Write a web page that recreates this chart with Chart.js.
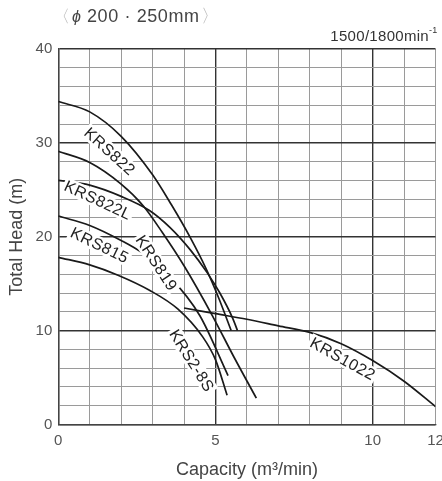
<!DOCTYPE html>
<html>
<head>
<meta charset="utf-8">
<script src="https://cdn.jsdelivr.net/npm/chart.js@4.4.1/dist/chart.umd.min.js"></script>
<style>
  html, body { margin: 0; padding: 0; background: #fff; }
  #wrap { width: 442px; height: 481px; }
</style>
</head>
<body>
<div id="wrap"><canvas id="pumpChart" width="442" height="481"></canvas></div>
<script>
// pump curves: capacity (m3/min) vs total head (m)
const krs822Q = [0, 1, 2, 3, 3.6, 4.2, 4.7, 5.1, 5.5];
const krs822H = [34.4, 33.3, 30.7, 26.6, 23.4, 19.9, 16.6, 13.5, 10.0];

const krs819Q = [0, 1, 2, 2.7, 3.3, 4, 4.9, 5.6, 6.3];
const krs819H = [29.1, 27.9, 25.6, 23.3, 20.5, 16.9, 11.6, 7.1, 2.8];

const krs822lQ = [0, 1, 2, 2.9, 3.55, 4.2, 4.73, 5.14, 5.55, 5.7];
const krs822lH = [26.0, 25.5, 24.3, 22.8, 21.0, 18.6, 16.2, 14.0, 11.3, 10.0];

const krs815Q = [0, 1, 2, 2.66, 3.5, 4.5, 5.4];
const krs815H = [22.2, 21.2, 19.6, 18.3, 15.9, 11.6, 5.2];

const krs28sQ = [0, 1, 1.9, 2.9, 3.8, 4.6, 5.0, 5.37];
const krs28sH = [17.8, 17.0, 15.9, 14.3, 12.3, 9.3, 6.9, 3.1];

const krs1022Q = [4, 5, 6, 7, 8, 9, 10, 11, 12];
const krs1022H = [12.4, 11.8, 11.2, 10.5, 9.8, 8.6, 6.8, 4.6, 1.9];

const seriesNames = ['KRS822', 'KRS819', 'KRS822L', 'KRS815', 'KRS2-8S', 'KRS1022'];
const xTickLabels = [0, 5, 10, 12];
const yTickLabels = [0, 10, 20, 30, 40];

const FONT = "'Liberation Sans', Arial, Helvetica, sans-serif";
Chart.defaults.font.family = FONT;

function toPoints(q, h) {
    return q.map(function(v, i) { return { x: v, y: h[i] }; });
}

const curveData = [
    toPoints(krs822Q, krs822H),
    toPoints(krs819Q, krs819H),
    toPoints(krs822lQ, krs822lH),
    toPoints(krs815Q, krs815H),
    toPoints(krs28sQ, krs28sH),
    toPoints(krs1022Q, krs1022H)
];

// where each curve name sits (data units) and its slant
const curveLabels = [
    { text: 'KRS822',  q: 1.64, h: 29.1, angle: 42 },
    { text: 'KRS822L', q: 1.26, h: 23.9, angle: 25 },
    { text: 'KRS815',  q: 1.32, h: 19.1, angle: 26 },
    { text: 'KRS819',  q: 3.13, h: 17.2, angle: 57 },
    { text: 'KRS2-8S', q: 4.25, h: 6.8,  angle: 58 },
    { text: 'KRS1022', q: 9.05, h: 7.0,  angle: 29 }
];

const labelPlugin = {
    id: 'curveLabels',
    afterDatasetsDraw: function(chart) {
        const ctx = chart.ctx;
        const xs = chart.scales.x, ys = chart.scales.y;
        ctx.save();
        ctx.font = '16px ' + FONT;
        ctx.letterSpacing = '0.5px';
        curveLabels.forEach(function(l) {
            const px = xs.getPixelForValue(l.q);
            const py = ys.getPixelForValue(l.h);
            ctx.save();
            ctx.translate(px, py);
            ctx.rotate(l.angle * Math.PI / 180);
            const w = ctx.measureText(l.text).width;
            ctx.fillStyle = '#fff';
            ctx.fillRect(-w / 2 - 2, -8, w + 4, 16);
            ctx.fillStyle = '#222';
            ctx.textAlign = 'center';
            ctx.textBaseline = 'middle';
            ctx.fillText(l.text, 0, 1);
            ctx.restore();
        });
        ctx.restore();
    }
};

const headerPlugin = {
    id: 'header',
    afterDraw: function(chart) {
        const ctx = chart.ctx;
        ctx.save();
        ctx.textBaseline = 'middle';
        ctx.font = '17px ' + FONT;
        ctx.fillStyle = '#bbb';
        ctx.fillText('\u3008', 53, 17);
        ctx.fillStyle = '#444';
        ctx.font = 'italic 16px ' + FONT;
        ctx.fillText('\u03d5', 72, 18);
        ctx.font = '18px ' + FONT;
        ctx.letterSpacing = '0.6px';
        ctx.fillText('200 \u00b7 250mm', 87, 17);
        ctx.fillStyle = '#bbb';
        ctx.fillText('\u3009', 201, 17);

        ctx.fillStyle = '#333';
        ctx.font = '15px ' + FONT;
        ctx.letterSpacing = '0.3px';
        ctx.textAlign = 'right';
        ctx.fillText('1500/1800min', 429, 37);
        ctx.font = '9px ' + FONT;
        ctx.textAlign = 'left';
        ctx.fillText('-1', 429, 31);
        ctx.restore();
    }
};

new Chart(document.getElementById('pumpChart').getContext('2d'), {
    type: 'scatter',
    data: {
        datasets: curveData.map(function(pts, i) {
            return {
                label: seriesNames[i],
                data: pts,
                showLine: true,
                borderColor: '#1a1a1a',
                borderWidth: 1.7,
                pointRadius: 0,
                cubicInterpolationMode: 'monotone'
            };
        })
    },
    options: {
        responsive: false,
        animation: false,
        layout: { padding: { top: 49, left: 6, right: 6.5, bottom: 0 } },
        plugins: {
            legend: { display: false },
            tooltip: { enabled: false }
        },
        scales: {
            x: {
                type: 'linear',
                min: 0,
                max: 12,
                ticks: {
                    stepSize: 1,
                    autoSkip: false,
                    maxRotation: 0,
                    padding: 7.5,
                    color: '#555',
                    font: { size: 15 },
                    callback: function(v) { return xTickLabels.includes(v) ? String(v) : ''; }
                },
                grid: {
                    drawTicks: false,
                    color: function(c) { return c.tick && c.tick.value % 5 === 0 ? '#333' : '#9a9a9a'; },
                    lineWidth: function(c) { return c.tick && c.tick.value % 5 === 0 ? 1.4 : 1; }
                },
                border: { display: true, color: '#444', width: 1.3 },
                title: {
                    display: true,
                    text: 'Capacity (m\u00b3/min)',
                    color: '#444',
                    font: { size: 18 },
                    padding: { top: 2, bottom: 0 }
                },
                afterFit: function(scale) { scale.paddingRight = 0; }
            },
            y: {
                type: 'linear',
                min: 0,
                max: 40,
                ticks: {
                    stepSize: 2,
                    autoSkip: false,
                    padding: 6,
                    color: '#555',
                    font: { size: 15 },
                    callback: function(v) { return yTickLabels.includes(v) ? String(v) : ''; }
                },
                grid: {
                    drawTicks: false,
                    color: function(c) { return c.tick && c.tick.value % 10 === 0 ? '#333' : '#9a9a9a'; },
                    lineWidth: function(c) { return c.tick && c.tick.value % 10 === 0 ? 1.4 : 1; }
                },
                border: { display: true, color: '#444', width: 1.3 },
                title: {
                    display: true,
                    text: 'Total Head (m)',
                    color: '#444',
                    font: { size: 18 },
                    padding: { top: 0, bottom: 2 }
                }
            }
        }
    },
    plugins: [labelPlugin, headerPlugin]
});
</script>
</body>
</html>
